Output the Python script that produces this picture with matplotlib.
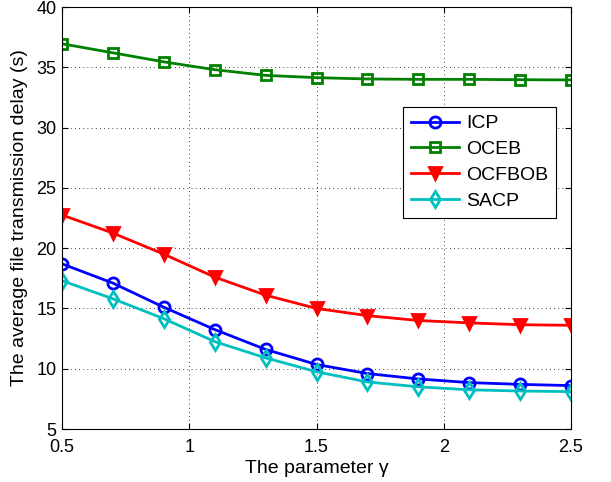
import numpy as np
import matplotlib.pyplot as plt

plt.rcParams.update({
    "font.family": ["Liberation Sans", "DejaVu Sans"],
    "font.size": 13,
})

# data
gamma = [0.5, 0.7, 0.9, 1.1, 1.3, 1.5, 1.7, 1.9, 2.1, 2.3, 2.5]
icp = [18.7, 17.1, 15.1, 13.25, 11.6, 10.35, 9.6, 9.15, 8.85, 8.7, 8.6]
oceb = [36.95, 36.2, 35.45, 34.8, 34.33, 34.14, 34.03, 34.0, 34.0, 33.97, 33.95]
ocfbob = [22.75, 21.25, 19.5, 17.6, 16.1, 15.0, 14.4, 14.0, 13.8, 13.65, 13.6]
sacp = [17.3, 15.8, 14.15, 12.25, 10.9, 9.75, 8.9, 8.5, 8.25, 8.15, 8.1]

fig = plt.figure(figsize=(6.11, 4.82), dpi=100)
ax = fig.add_axes([62 / 611, 1 - 429 / 482, (571 - 62) / 611, (429 - 7) / 482])

lw = 2
ax.plot(gamma, icp, '-o', color=(0, 0, 1), lw=lw, ms=8, mew=lw, mfc='none', label='ICP')
ax.plot(gamma, oceb, '-s', color=(0, 0.5, 0), lw=lw, ms=7, mew=lw, mfc='none', label='OCEB')
ax.plot(gamma, ocfbob, '-v', color=(1, 0, 0), lw=lw, ms=9, mew=lw, label='OCFBOB')
ax.plot(gamma, sacp, '-d', color=(0, 0.75, 0.75), lw=lw, ms=8, mew=lw, mfc='none', label='SACP')

ax.set_xlim(0.5, 2.5)
ax.set_ylim(5, 40)
ax.set_xticks([0.5, 1, 1.5, 2, 2.5])
ax.set_xticklabels(['0.5', '1', '1.5', '2', '2.5'])
ax.set_yticks(np.arange(5, 41, 5))
ax.tick_params(direction='in', top=True, right=True, length=4, labelsize=13)
ax.tick_params(axis='x', pad=7)
ax.tick_params(axis='y', pad=4)
ax.grid(True, linestyle=(0, (1, 4)), color='black', lw=0.6)
for s in ax.spines.values():
    s.set_linewidth(0.8)

ax.set_xlabel('The parameter γ', fontsize=14, labelpad=3)
ax.set_ylabel('The average file transmission delay (s)', fontsize=14, labelpad=6)

leg = ax.legend(loc='upper left', bbox_to_anchor=(0.67, 0.763), fancybox=False,
                edgecolor='black', framealpha=1, fontsize=14, handlelength=2.5,
                handletextpad=0.35, borderpad=0.4, labelspacing=0.42, borderaxespad=0)
leg.get_frame().set_linewidth(0.8)

fig.savefig('out.png', dpi=100)
